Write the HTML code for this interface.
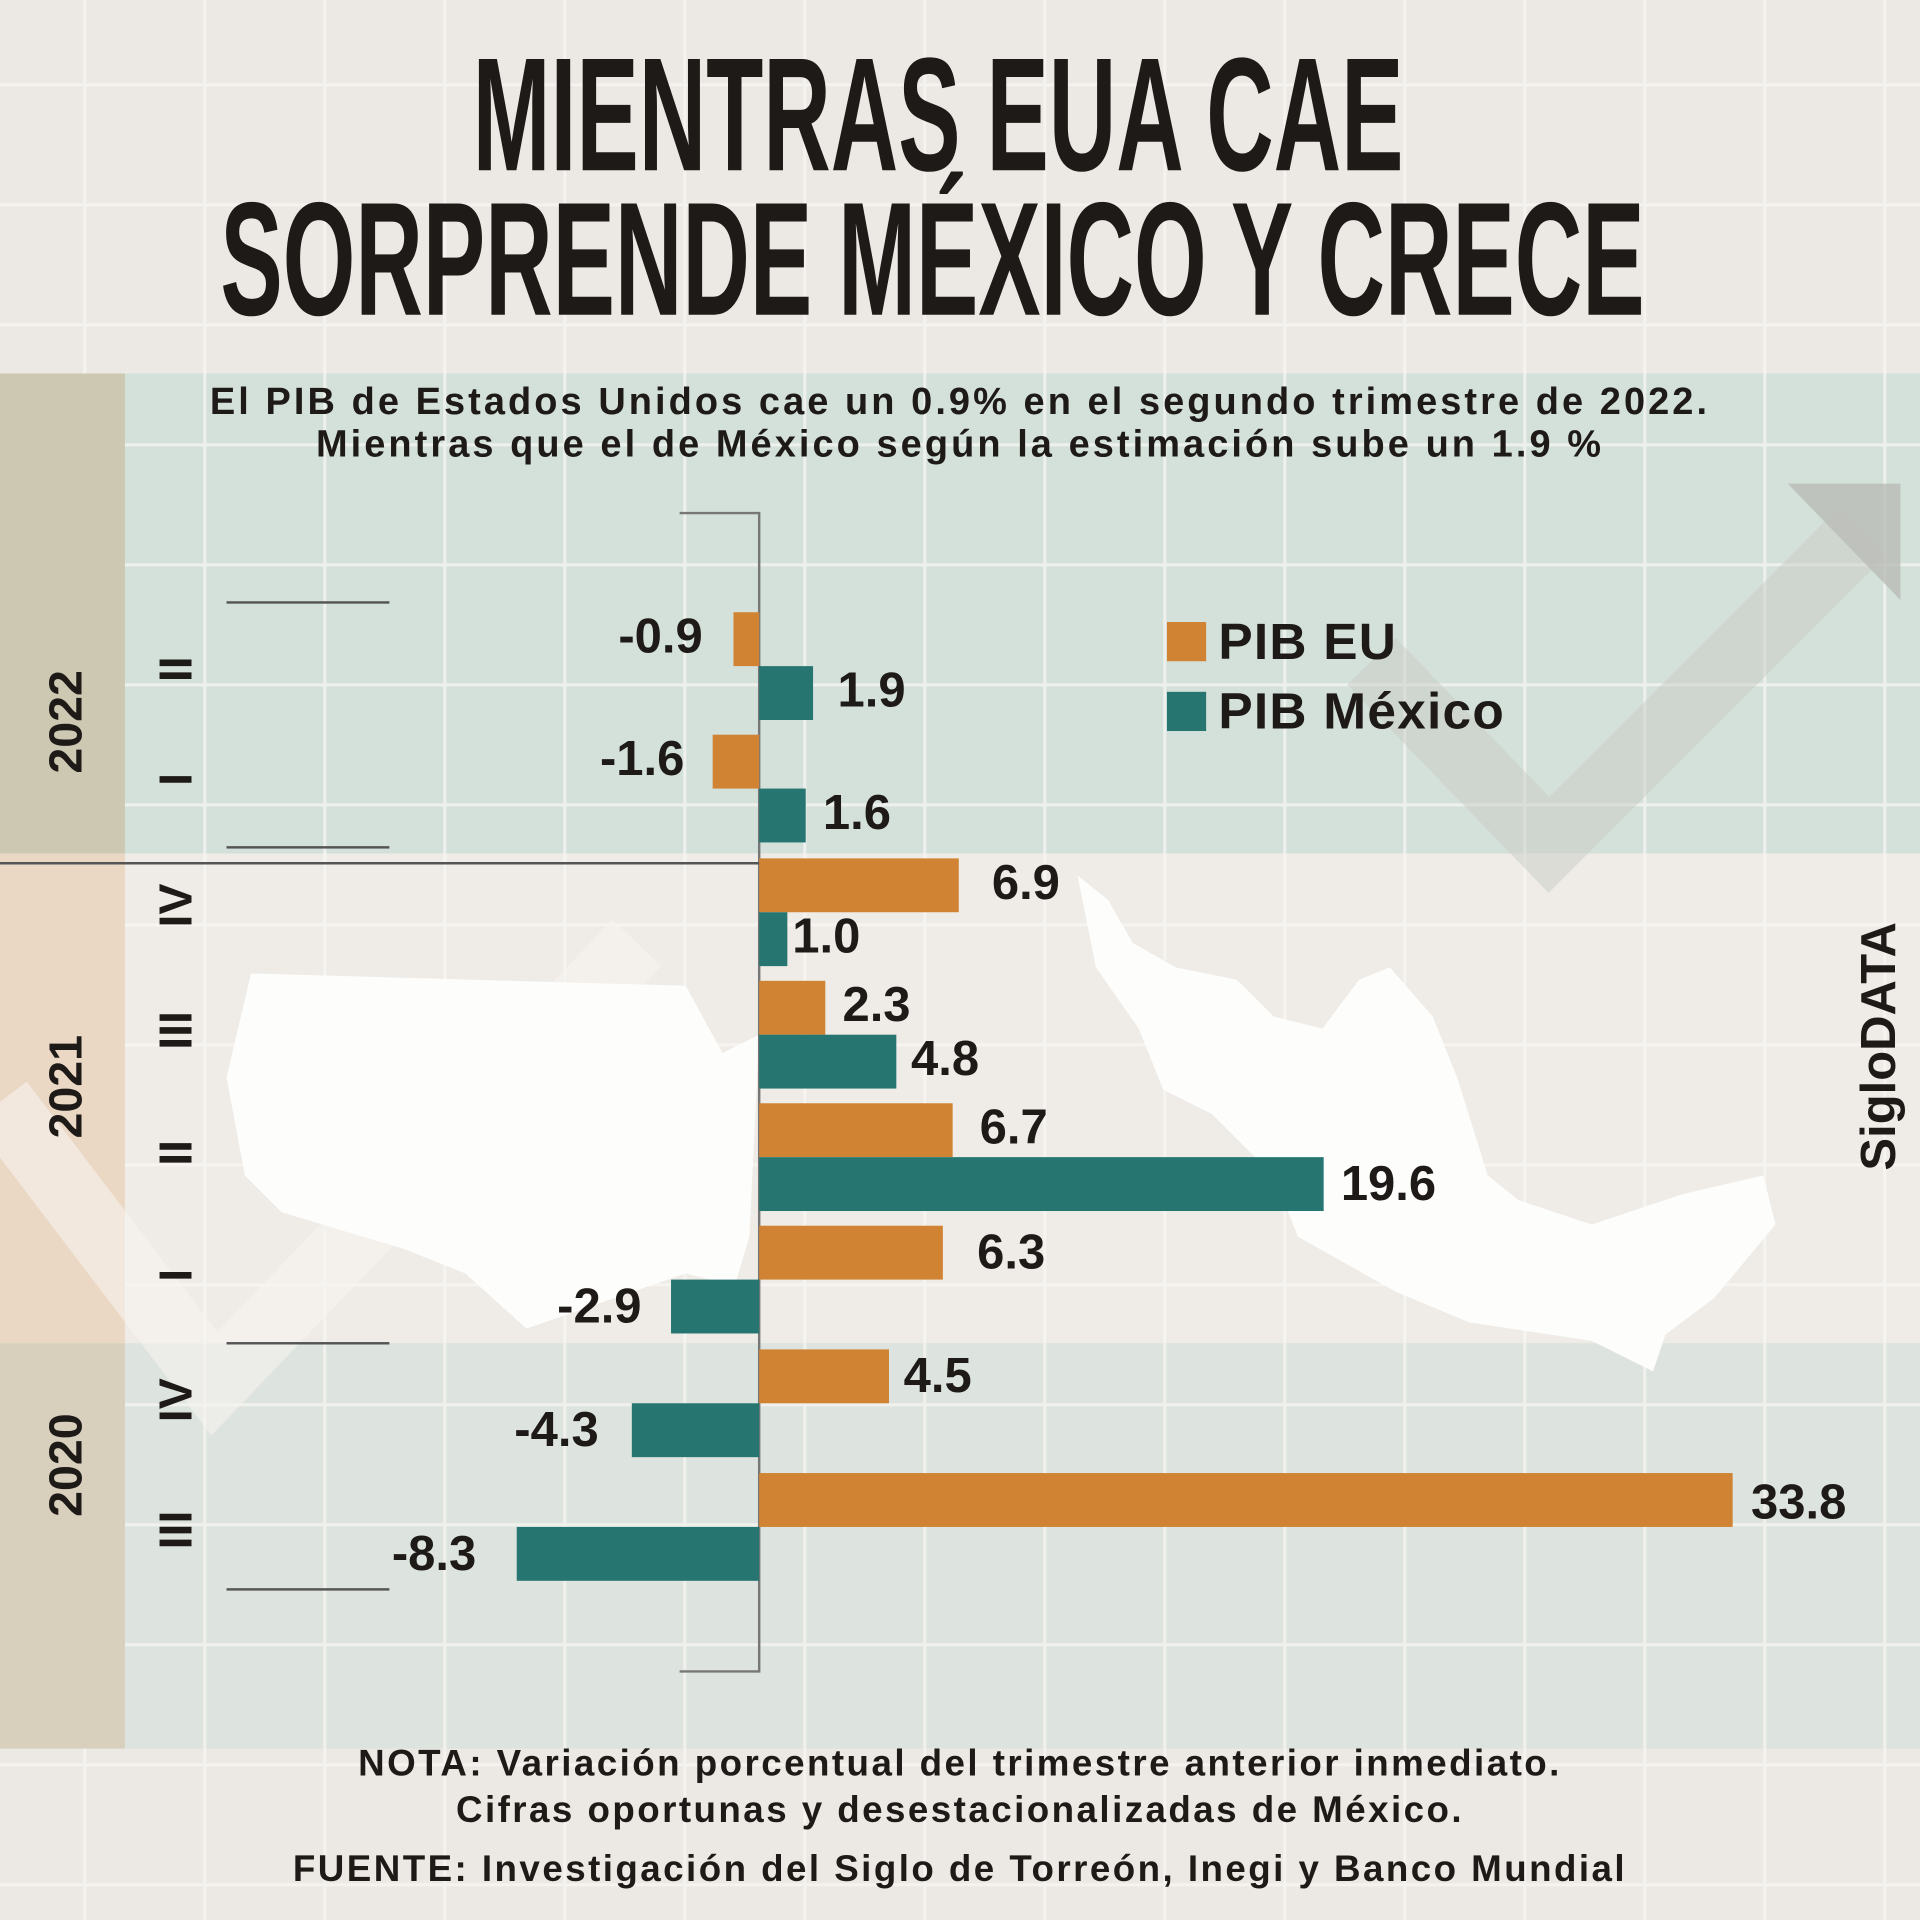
<!DOCTYPE html>
<html><head><meta charset="utf-8"><style>
html,body{margin:0;padding:0;width:1920px;height:1920px;overflow:hidden;background:#ece9e4}
#w{position:absolute;left:0;top:0;width:1568px;height:1568px;transform:scale(1.22449);transform-origin:0 0;font-family:"Liberation Sans",sans-serif;color:#1e1a18}
.a{position:absolute}
.t{position:absolute;white-space:nowrap;font-weight:bold;font-size:132px;line-height:132px;transform:scaleX(0.578);transform-origin:0 0;color:#1e1a18}
.b{position:absolute;height:44px}
.o{background:#d08332}.g{background:#267571}
.l{position:absolute;font-weight:bold;font-size:40px;line-height:44px}
.r{position:absolute;font-weight:bold;transform:rotate(-90deg);transform-origin:center;text-align:center}
.s{position:absolute;left:0;width:1568px;text-align:center;font-weight:bold;font-size:31px;letter-spacing:2px;white-space:nowrap}
.h{position:absolute;left:185px;width:133px;height:2px;background:#555}
</style></head><body><div id="w">
<svg class="a" style="left:0;top:0" width="1568" height="1568">
<defs><pattern id="p" width="98" height="98" patternUnits="userSpaceOnUse" x="-30" y="-30"><path d="M0 0H98M0 0V98" stroke="#f8f7f4" stroke-width="5" fill="none"/></pattern></defs>
<rect width="1568" height="1568" fill="#ece9e4"/>
<rect y="305" width="1568" height="392" fill="#d4e0da"/>
<rect y="697" width="1568" height="400" fill="#efece7"/>
<rect y="1097" width="1568" height="331" fill="#dde3de"/>
<rect width="1568" height="1568" fill="url(#p)" opacity="0.7"/>
<rect y="305" width="102" height="392" fill="#cdc8b2"/>
<rect y="697" width="102" height="400" fill="#ead8c4"/>
<rect y="1097" width="102" height="331" fill="#d9cfbd"/>
<polyline points="1120,540 1265,690 1520,435" stroke="#c9cbc5" stroke-width="55" fill="none" opacity="0.5"/>
<polygon points="1460,395 1552,395 1552,490" fill="#b9bcb6" opacity="0.8"/>
<polyline points="0,900 175,1130 520,770" stroke="#f6f4f0" stroke-width="55" fill="none" opacity="0.6"/>
<path d="M205,795 L560,805 590,860 620,845 612,1010 600,1050 560,1040 430,1085 380,1040 330,1020 230,990 200,960 185,880 Z" fill="#fdfdfc"/>
<path d="M880,715 L905,735 925,770 960,790 1010,800 1040,830 1080,840 1110,800 1135,790 1170,830 1190,880 1215,960 1240,980 1300,1000 1375,975 1440,960 1450,1000 1400,1060 1360,1090 1350,1120 1300,1095 1200,1080 1140,1055 1060,1010 1040,960 990,910 950,890 930,840 895,790 Z" fill="#fdfdfc"/>
<line x1="620" y1="418" x2="620" y2="1366" stroke="#777" stroke-width="2"/>
<line x1="555" y1="419" x2="620" y2="419" stroke="#777" stroke-width="2"/>
<line x1="555" y1="1365" x2="620" y2="1365" stroke="#777" stroke-width="2"/>
<line x1="0" y1="705" x2="620" y2="705" stroke="#555" stroke-width="2"/>
</svg>
<div class="t" style="left:386px;top:28px">MIENTRAS EUA CAE</div>
<div class="t" style="left:180px;top:146px">SORPRENDE MÉXICO Y CRECE</div>
<div class="s" style="top:310px;letter-spacing:2.5px">El PIB de Estados Unidos cae un 0.9% en el segundo trimestre de 2022.</div>
<div class="s" style="top:345px;letter-spacing:2.5px">Mientras que el de México según la estimación sube un 1.9 %</div>
<div class="h" style="top:491px"></div><div class="h" style="top:691px"></div><div class="h" style="top:1096px"></div><div class="h" style="top:1297px"></div>
<div class="b o" style="left:599px;top:500px;width:21px"></div><div class="l" style="left:505px;top:498px">-0.9</div>
<div class="b g" style="left:620px;top:544px;width:44px"></div><div class="l" style="left:684px;top:542px">1.9</div>
<div class="b o" style="left:582px;top:600px;width:38px"></div><div class="l" style="left:490px;top:598px">-1.6</div>
<div class="b g" style="left:620px;top:644px;width:38px"></div><div class="l" style="left:672px;top:642px">1.6</div>
<div class="b o" style="left:620px;top:701px;width:163px"></div><div class="l" style="left:810px;top:699px">6.9</div>
<div class="b g" style="left:620px;top:745px;width:23px"></div><div class="l" style="left:647px;top:743px">1.0</div>
<div class="b o" style="left:620px;top:801px;width:54px"></div><div class="l" style="left:688px;top:799px">2.3</div>
<div class="b g" style="left:620px;top:845px;width:112px"></div><div class="l" style="left:744px;top:843px">4.8</div>
<div class="b o" style="left:620px;top:901px;width:158px"></div><div class="l" style="left:800px;top:899px">6.7</div>
<div class="b g" style="left:620px;top:945px;width:461px"></div><div class="l" style="left:1095px;top:945px">19.6</div>
<div class="b o" style="left:620px;top:1001px;width:150px"></div><div class="l" style="left:798px;top:1001px">6.3</div>
<div class="b g" style="left:548px;top:1045px;width:72px"></div><div class="l" style="left:455px;top:1045px">-2.9</div>
<div class="b o" style="left:620px;top:1102px;width:106px"></div><div class="l" style="left:738px;top:1102px">4.5</div>
<div class="b g" style="left:516px;top:1146px;width:104px"></div><div class="l" style="left:420px;top:1146px">-4.3</div>
<div class="b o" style="left:620px;top:1203px;width:795px"></div><div class="l" style="left:1430px;top:1205px">33.8</div>
<div class="b g" style="left:422px;top:1247px;width:198px"></div><div class="l" style="left:320px;top:1247px">-8.3</div>
<div class="a" style="left:953px;top:508px;width:32px;height:32px;background:#d08332"></div>
<div class="a" style="left:953px;top:565px;width:32px;height:32px;background:#267571"></div>
<div class="a" style="left:995px;top:500px;font-size:42px;font-weight:bold;letter-spacing:1px">PIB EU</div>
<div class="a" style="left:995px;top:557px;font-size:42px;font-weight:bold;letter-spacing:1px">PIB México</div>
<div class="r" style="left:95px;top:525px;width:100px;font-size:38px">II</div>
<div class="r" style="left:95px;top:615px;width:100px;font-size:38px">I</div>
<div class="r" style="left:95px;top:718px;width:100px;font-size:38px">IV</div>
<div class="r" style="left:95px;top:820px;width:100px;font-size:38px">III</div>
<div class="r" style="left:95px;top:920px;width:100px;font-size:38px">II</div>
<div class="r" style="left:95px;top:1020px;width:100px;font-size:38px">I</div>
<div class="r" style="left:95px;top:1122px;width:100px;font-size:38px">IV</div>
<div class="r" style="left:95px;top:1228px;width:100px;font-size:38px">III</div>
<div class="r" style="left:-10px;top:568px;width:130px;font-size:38px">2022</div>
<div class="r" style="left:-10px;top:866px;width:130px;font-size:38px">2021</div>
<div class="r" style="left:-10px;top:1175px;width:130px;font-size:38px">2020</div>
<div class="r" style="left:1425px;top:832px;width:220px;font-size:40px">SigloDATA</div>
<div class="s" style="top:1424px;font-size:30px">NOTA: Variación porcentual del trimestre anterior inmediato.</div>
<div class="s" style="top:1462px;font-size:30px">Cifras oportunas y desestacionalizadas de México.</div>
<div class="s" style="top:1510px;font-size:30px">FUENTE: Investigación del Siglo de Torreón, Inegi y Banco Mundial</div>
</div></body></html>
